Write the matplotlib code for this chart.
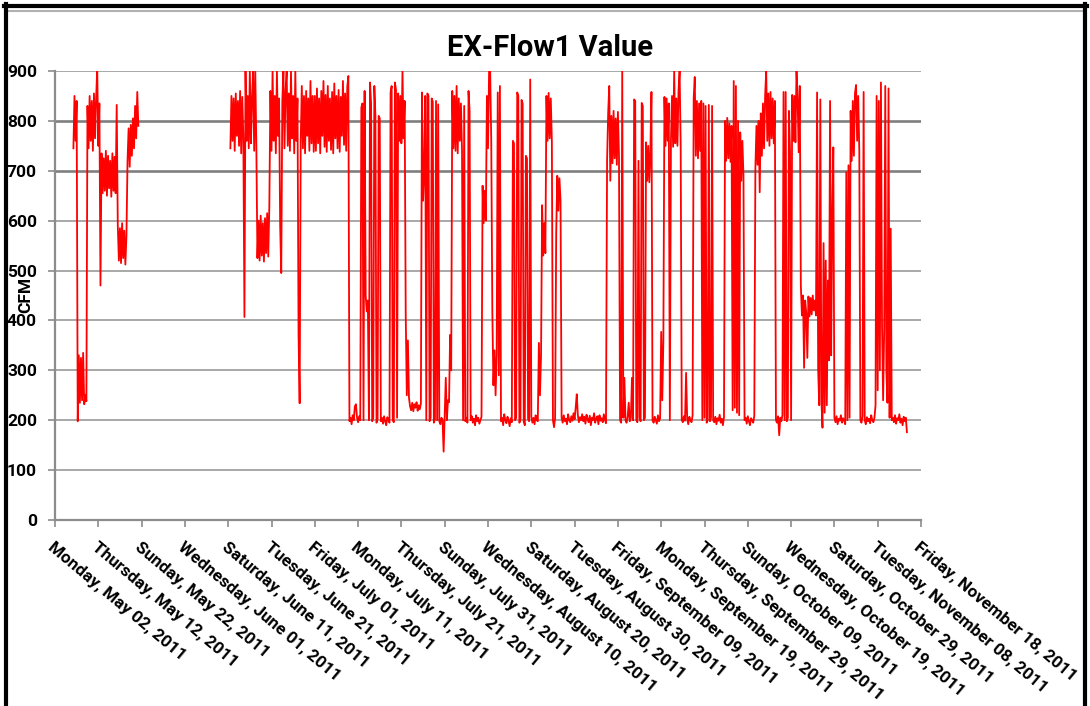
import matplotlib
matplotlib.use("Agg")
import matplotlib.pyplot as plt
from matplotlib.lines import Line2D
import pandas as pd

# EX-Flow1 readings (CFM), one value every 6 hours
may_start = "2011-05-06 06:00"
may_vals = [745, 850, 760, 840,
            198, 330, 235, 325, 240, 335, 232, 250, 238,
            830, 745, 850, 760, 840, 740, 855, 765, 845, 905, 750, 835,
            470,
            735, 655, 725, 660, 740, 650, 730, 665, 720, 648, 735, 660, 728, 655,
            832,
            590, 520, 585, 515, 595, 525, 580, 512, 570,
            720, 785, 708, 792, 730, 805, 745, 830, 765, 858, 790]

# logging resumes mid June and runs without a gap to mid November
jun_start = "2011-06-11 12:00"
jun_vals = [745, 850, 760, 845, 740, 855, 770, 840, 750, 860, 735, 848, 765,
            407, 900,
            760, 850, 745, 900, 755, 845, 900, 740, 900, 750,
            525, 600, 520, 610, 530, 595, 518, 605, 535, 615, 528, 630,
            860, 740, 900, 760, 850, 735, 900, 770, 845,
            590, 495,
            840, 900, 745, 860, 900, 750, 855, 740, 900, 765, 850, 735, 900, 760, 845,
            370, 234,
            760, 870, 745, 850, 735, 860, 770, 845, 740, 880, 755, 850, 738]

jul_vals = [850, 740, 865, 755, 845, 735, 860, 770, 880, 748, 852, 738, 870, 760, 845, 742,
            858, 735, 875, 765, 850, 745, 862, 738, 848, 770, 880, 752, 855, 740, 868, 890,
            198, 205, 192, 210, 200, 228, 232, 205, 196, 208,
            200, 827, 835, 200, 860, 450, 418, 440, 200, 877, 835, 198, 205, 870, 810, 195,
            202, 810, 805, 198,
            205, 193, 208, 198, 190, 206, 200, 195,
            857, 870, 200, 196, 877, 862, 205, 855, 760, 850, 755, 900, 765, 840,
            410, 250, 360, 245,
            228, 220, 235, 218, 232, 225, 236, 219, 230, 222, 234,
            857, 640, 695, 850,
            200, 855, 850, 198, 205, 845, 838, 195, 202, 840, 200, 833, 198, 192, 205, 200,
            137, 210, 285, 200, 240]

aug_vals = [236, 371, 300, 860,
            745, 850, 740, 870, 735, 845, 760, 835, 740,
            200, 830, 198, 205, 195, 860, 820, 200,
            208, 195, 203, 190, 210, 198, 205, 193, 200, 207,
            670, 595, 660, 600,
            850, 745, 900, 900, 760,
            420, 270, 340, 250, 330, 857, 290, 870,
            198, 205, 190, 212, 200, 194, 207, 199, 188, 204, 196,
            760, 755, 200, 205, 857, 850, 195, 202, 842, 835, 198, 190, 730, 725, 203, 198,
            883, 207,
            195, 205, 192, 210, 200, 198,
            355, 250, 330, 631, 530, 595, 535,
            850, 760, 856, 765, 845, 758,
            200, 186, 205,
            575, 690, 620, 685, 640,
            205, 195, 210, 198, 203, 192, 212, 200, 196, 208, 199, 214, 202, 225, 252, 210,
            196, 206, 200, 212]

sep_vals = [198, 207, 193, 211, 202, 196, 209, 190, 205, 200, 214, 195, 203, 208, 192, 210,
            199, 204, 196, 212, 201, 194,
            720, 815, 870, 680, 810, 715, 820, 725, 805, 712, 818, 730,
            200, 195, 900, 205,
            285, 200, 195, 206, 235, 198, 205, 285, 200, 843, 840, 200, 196, 720, 205, 198,
            836, 830, 200, 205, 757, 680, 750, 677, 740, 858, 200,
            195, 207, 200, 193, 210, 198, 204,
            377, 240, 360,
            848, 750, 845, 760, 835,
            200,
            760, 850, 748, 900, 755, 845, 750, 860, 900, 752,
            200, 196, 208, 199, 295, 203, 192, 207, 200, 196, 210,
            845, 888, 730, 840, 725, 835, 740,
            840, 200, 835, 205, 830, 195, 200, 832, 198, 205, 830]

oct_vals = [200, 196, 207, 192, 204, 199, 211, 195, 203, 190, 206,
            800, 720, 806, 725, 795, 718, 790,
            220, 880, 225, 870, 215, 800, 210, 777, 680, 760, 690, 200,
            205, 193, 208, 198, 190, 204, 200, 195, 209,
            705, 790, 712, 800, 657, 815, 730, 835, 745, 850, 900, 760, 855, 750, 858, 765,
            845, 755, 840,
            200, 195, 208, 170, 205, 198, 210,
            858, 200, 858, 198, 205, 820, 740, 200, 852, 760, 850, 757, 900, 845, 737, 870,
            470, 410, 450, 305, 440, 415, 325, 448, 408, 445, 412, 450, 420, 440, 410,
            857, 300, 230, 843, 240, 185,
            555, 215, 520, 230, 480, 320, 840, 330, 610, 747,
            205, 196, 208, 192, 203, 199, 210, 195, 204, 200, 192, 697]

nov_vals = [200, 711, 205, 820, 720, 840, 730, 855, 872, 760, 850, 740,
            200, 195, 208, 858, 200, 192, 206, 198, 203, 194, 210, 200, 196, 205,
            230, 850, 260, 840, 300, 877, 390, 240, 380, 870, 300, 235, 865, 205, 584, 200,
            205, 196, 210, 193, 204, 200, 212, 195, 203, 190, 207, 198, 205, 176]

y_ticks = [0, 100, 200, 300, 400, 500, 600, 700, 800, 900]
x_first, x_last = "2011-05-02", "2011-11-18"

plt.rcParams['font.family'] = ['Roboto', 'Liberation Sans', 'DejaVu Sans']
plt.rcParams['font.weight'] = 'bold'

fig = plt.figure(figsize=(10.9, 7.06), dpi=100)
ax = fig.add_axes([55 / 1090, 186 / 706, 866 / 1090, 449 / 706])

rest_vals = jun_vals + jul_vals + aug_vals + sep_vals + oct_vals + nov_vals
may_t = pd.date_range(may_start, periods=len(may_vals), freq="6h")
rest_t = pd.date_range(jun_start, periods=len(rest_vals), freq="6h")

# gridlines (700 and 800 come out heavier in the original)
for v in y_ticks[1:]:
    heavy = v in (700, 800)
    ax.axhline(v, color='#7f7f7f' if heavy else '#9a9a9a', lw=1.9 if heavy else 1.2, zorder=1)

ax.plot(may_t, may_vals, color='#ff0000', lw=1.3, zorder=3)
ax.plot(rest_t, rest_vals, color='#ff0000', lw=1.3, zorder=3)

ax.set_ylim(0, 900)
ax.set_xlim(pd.Timestamp(x_first), pd.Timestamp(x_last))
ax.set_yticks(y_ticks)
ax.set_yticklabels([str(v) for v in y_ticks], fontsize=12.5, fontweight='bold')

ticks = pd.date_range(x_first, x_last, freq="10D")
ax.set_xticks(ticks)
ax.set_xticklabels([t.strftime("%A, %B %d, %Y") for t in ticks], rotation=-40,
                   ha='left', va='top', rotation_mode='anchor', fontsize=12.3, fontweight='bold')

for s in ('top', 'right'):
    ax.spines[s].set_visible(False)
for s in ('left', 'bottom'):
    ax.spines[s].set_color('#8c8c8c')
    ax.spines[s].set_linewidth(1.6)
ax.tick_params(axis='y', length=5, width=1.2, color='#8c8c8c', pad=8)
ax.tick_params(axis='x', length=5, width=1.2, color='#8c8c8c', pad=9)

fig.text(0.505, 0.932, "EX-Flow1 Value", ha='center', va='center', fontsize=21, fontweight='bold')
fig.text(26 / 1090, (706 - 295) / 706, "CFM", rotation=90, ha='center', va='center',
         fontsize=12.5, fontweight='bold')

# frame around the picture
fig.add_artist(Line2D([4 / 1090, 1087 / 1090], [1 - 6 / 706, 1 - 6 / 706], transform=fig.transFigure,
                      color='black', lw=3))
fig.add_artist(Line2D([9 / 1090, 1083 / 1090], [1 - 10.5 / 706, 1 - 10.5 / 706],
                      transform=fig.transFigure, color='#b0b0b0', lw=1.5))
fig.add_artist(Line2D([6 / 1090, 6 / 1090], [0, 1 - 4 / 706], transform=fig.transFigure,
                      color='black', lw=3))
fig.add_artist(Line2D([1085 / 1090, 1085 / 1090], [0, 1 - 4 / 706], transform=fig.transFigure,
                      color='black', lw=3))

fig.savefig("out.png", dpi=100)
